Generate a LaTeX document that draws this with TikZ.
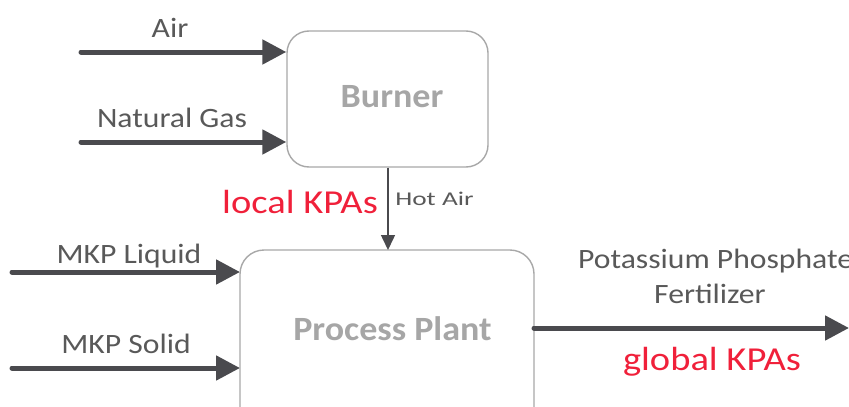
\documentclass[tikz,border=0pt]{standalone}
\usepackage{fontspec}
\setmainfont{Carlito}
\newfontfamily\labfont[FakeStretch=1.13]{Carlito}
\newfontfamily\boxfont[FakeStretch=1.06]{Carlito}
\newfontfamily\kpafont[FakeStretch=1.15]{Carlito}
\newfontfamily\hotfont[FakeStretch=1.4]{Carlito}
\usetikzlibrary{arrows.meta}
\definecolor{arrowc}{HTML}{4A4A4E}
\definecolor{labc}{HTML}{595959}
\definecolor{boxt}{HTML}{A6A6A6}
\definecolor{boxd}{HTML}{A8A8A8}
\definecolor{kpa}{HTML}{F0203A}
\tikzset{
  proc/.style={draw=boxd, line width=1.4pt, rounded corners=22pt, inner sep=0pt},
  boxlab/.style={text=boxt, font=\boxfont\fontsize{34}{38}\selectfont\bfseries, inner sep=0pt, anchor=base},
  flow/.style={draw=arrowc, line width=5pt, line cap=round, -{Triangle[length=24pt,width=24pt]}},
  thinflow/.style={draw=arrowc, line width=1.5pt, -{Triangle[length=15pt,width=14pt]}},
  lab/.style={text=labc, font=\labfont\fontsize{28}{35}\selectfont, inner sep=0pt, anchor=base},
  slab/.style={text=labc, font=\hotfont\fontsize{19.5}{23}\selectfont, inner sep=0pt, anchor=base},
  kpal/.style={text=kpa, font=\kpafont\fontsize{33.5}{38}\selectfont, inner sep=0pt, anchor=base}
}
\begin{document}
\begin{tikzpicture}[x=1pt,y=-1pt]
\useasboundingbox (0,0) rectangle (849,407);
\node[proc, minimum width=201pt, minimum height=136pt] (burner) at (387.5,99) {};
\node[boxlab] (bl) at (392,107) {Burner};
\path[proc, rounded corners=24pt] (240,440) -- (240,250) -- (534,250) -- (534,440);
\coordinate (pptop) at (388,250);
\coordinate (ppright) at (534,328);
\coordinate (ppliq) at (240,272);
\coordinate (ppsol) at (240,368);
\node[boxlab] (pp) at (392.5,340) {Process Plant};
\coordinate (airs) at (81,52);
\coordinate (gass) at (81,142);
\coordinate (liqs) at (12,272);
\coordinate (sols) at (12,368);
\coordinate (oute) at (849,328);
\draw[flow] (airs) -- (airs -| burner.west);
\draw[flow] (gass) -- (gass -| burner.west);
\draw[flow] (liqs) -- (ppliq);
\draw[flow] (sols) -- (ppsol);
\draw[flow] (ppright) -- (oute);
\draw[thinflow] (burner.south -| pptop) -- (pptop);
\node[lab] (airl) at (170,37) {Air};
\node[lab] (gasl) at (172,127) {Natural Gas};
\node[lab] (liql) at (129,263) {MKP Liquid};
\node[lab] (soll) at (126,353) {MKP Solid};
\node[lab, anchor=base west] (potl) at (578,268) {Potassium Phosphate};
\node[lab] (ferl) at (710,303) {Fertilizer};
\node[slab] (hotl) at (434.5,205) {Hot Air};
\node[kpal] (lkpa) at (300,213) {local KPAs};
\node[kpal] (gkpa) at (712,370) {global KPAs};
\end{tikzpicture}
\end{document}
